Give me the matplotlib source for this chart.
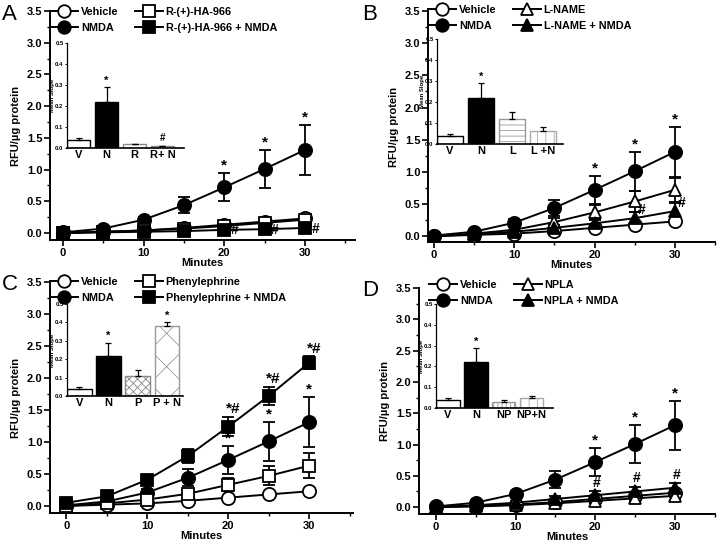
import matplotlib.pyplot as plt
from matplotlib.ticker import FormatStrFormatter
import numpy as np

plt.rcParams['font.family'] = ['Liberation Sans', 'DejaVu Sans']
plt.rcParams['font.weight'] = 'bold'
plt.rcParams['hatch.linewidth'] = 0.6

# ---- data ----
minutes = [0, 5, 10, 15, 20, 25, 30]

vehicle = [0.00, 0.02, 0.04, 0.08, 0.13, 0.18, 0.23]
vehicle_err = [0.01, 0.01, 0.02, 0.02, 0.03, 0.03, 0.04]
nmda = [0.01, 0.07, 0.21, 0.44, 0.72, 1.01, 1.31]
nmda_err = [0.01, 0.02, 0.05, 0.13, 0.22, 0.30, 0.39]

# A: R-(+)-HA-966
ha966 = [0.00, 0.02, 0.04, 0.07, 0.11, 0.16, 0.21]
ha966_err = [0.01, 0.01, 0.02, 0.02, 0.03, 0.03, 0.04]
ha966_nmda = [0.00, 0.01, 0.02, 0.03, 0.05, 0.06, 0.08]
ha966_nmda_err = [0.01, 0.01, 0.01, 0.01, 0.02, 0.02, 0.02]

# B: L-NAME
lname = [0.00, 0.04, 0.10, 0.22, 0.37, 0.54, 0.72]
lname_err = [0.01, 0.02, 0.04, 0.07, 0.12, 0.16, 0.19]
lname_nmda = [0.00, 0.03, 0.07, 0.13, 0.20, 0.28, 0.39]
lname_nmda_err = [0.01, 0.02, 0.03, 0.05, 0.07, 0.10, 0.12]

# C: Phenylephrine
phe = [0.00, 0.04, 0.10, 0.19, 0.33, 0.47, 0.63]
phe_err = [0.01, 0.02, 0.04, 0.07, 0.10, 0.15, 0.19]
phe_nmda = [0.05, 0.15, 0.41, 0.78, 1.24, 1.72, 2.24]
phe_nmda_err = [0.01, 0.03, 0.05, 0.11, 0.15, 0.14, 0.10]

# D: NPLA
npla = [0.00, 0.01, 0.03, 0.06, 0.10, 0.14, 0.18]
npla_err = [0.01, 0.01, 0.02, 0.03, 0.04, 0.05, 0.06]
npla_nmda = [0.00, 0.03, 0.07, 0.13, 0.19, 0.25, 0.31]
npla_nmda_err = [0.01, 0.02, 0.03, 0.04, 0.06, 0.07, 0.07]

# inset bar charts (mean slope)
slope_labels_a = ['V', 'N', 'R', 'R+ N']
slope_a = [0.04, 0.22, 0.02, 0.01]
slope_err_a = [0.01, 0.07, 0.0, 0.0]
slope_labels_b = ['V', 'N', 'L', 'L +N']
slope_b = [0.04, 0.22, 0.12, 0.06]
slope_err_b = [0.01, 0.07, 0.03, 0.02]
slope_labels_c = ['V', 'N', 'P', 'P + N']
slope_c = [0.04, 0.22, 0.11, 0.38]
slope_err_c = [0.01, 0.07, 0.03, 0.02]
slope_labels_d = ['V', 'N', 'NP', 'NP+N']
slope_d = [0.04, 0.22, 0.03, 0.05]
slope_err_d = [0.01, 0.07, 0.01, 0.01]

W, H = 720, 542
fig = plt.figure(figsize=(W / 100, H / 100), dpi=100)


def px_rect(l, t, r, b):
    return [l / W, 1 - b / H, (r - l) / W, (b - t) / H]


def main_panel(rect, xlim, ylo):
    ax = fig.add_axes(px_rect(*rect))
    ax.set_facecolor('none')
    ax.set_xlim(*xlim)
    ax.set_ylim(ylo, 3.5)
    for s in ['top', 'right']:
        ax.spines[s].set_visible(False)
    for s in ['left', 'bottom']:
        ax.spines[s].set_linewidth(1.4)
    ax.set_xticks([0, 10, 20, 30])
    ax.set_xticks([5, 15, 25, 35], minor=True)
    ax.set_yticks(np.arange(0, 3.51, 0.5))
    ax.set_yticks(np.arange(0.25, 3.5, 0.5), minor=True)
    ax.yaxis.set_major_formatter(FormatStrFormatter('%.1f'))
    ax.tick_params(direction='out', length=4, width=1.2, labelsize=8, pad=1.5)
    ax.tick_params(which='minor', direction='out', length=2.5, width=1)
    ax.set_xlabel('Minutes', fontsize=8, fontweight='bold', labelpad=0)
    ax.set_ylabel('RFU/µg protein', fontsize=8, fontweight='bold', labelpad=4)
    return ax


def series(ax, y, err, marker, face):
    ax.errorbar(minutes, y, yerr=err, fmt='none', ecolor='k', elinewidth=1.3,
                capsize=4.5, capthick=1.3, zorder=2)
    ms = 9.5 if marker == 'o' else 8.5
    line, = ax.plot(minutes, y, '-', color='k', lw=1.4, marker=marker, ms=ms,
                    mfc=face, mec='k', mew=1.3, zorder=3)
    return line


def inset(rect, labels, vals, errs, hatches, edges, faces, xlim):
    ax = fig.add_axes(px_rect(*rect))
    ax.set_facecolor('none')
    x = np.arange(len(vals))
    ax.bar(x, vals, width=0.84, color=faces, edgecolor=edges, hatch=hatches,
           linewidth=1.0, zorder=2)
    ax.errorbar(x, vals, yerr=[[0] * len(vals), errs], fmt='none', ecolor='k',
                elinewidth=0.9, capsize=2.5, capthick=0.9, zorder=3)
    ax.set_xlim(*xlim)
    ax.set_ylim(0, 0.5)
    for s in ['top', 'right']:
        ax.spines[s].set_visible(False)
    ax.spines['left'].set_linewidth(0.9)
    ax.spines['bottom'].set_linewidth(1.2)
    ax.set_xticks(x)
    ax.set_xticklabels(labels, fontsize=8, fontweight='bold')
    ax.tick_params(axis='x', length=0, pad=1.5)
    ax.set_yticks(np.arange(0, 0.51, 0.1))
    ax.yaxis.set_major_formatter(FormatStrFormatter('%.1f'))
    ax.tick_params(axis='y', direction='out', length=1.5, width=0.7, labelsize=4.3, pad=1)
    ax.set_ylabel('Mean Slope', fontsize=4.3, fontweight='bold', labelpad=0)
    return ax


def legend(ax, handles, labels, anchor_px):
    ax.legend(handles, labels, ncol=2, loc='upper left',
              bbox_to_anchor=(anchor_px[0] / W, 1 - anchor_px[1] / H),
              bbox_transform=fig.transFigure, frameon=False, fontsize=7.8,
              handlelength=2.6, handletextpad=0.25, columnspacing=1.5,
              labelspacing=0.55, borderpad=0, borderaxespad=0, markerscale=0.95)


def note(ax, x, y, s, size=11):
    ax.text(x, y, s, ha='center', va='center', fontsize=size, fontweight='bold')


star_x = [20, 25, 30]

# ---------- Panel A ----------
axA = main_panel((50, 11, 355, 240), (-1.6, 36.2), -0.11)
hA = [series(axA, vehicle, vehicle_err, 'o', 'white'),
      series(axA, nmda, nmda_err, 'o', 'k'),
      series(axA, ha966, ha966_err, 's', 'white'),
      series(axA, ha966_nmda, ha966_nmda_err, 's', 'k')]
legend(axA, hA, ['Vehicle', 'NMDA', 'R-(+)-HA-966', 'R-(+)-HA-966 + NMDA'], (50, 7))
for t in star_x:
    k = minutes.index(t)
    note(axA, t, nmda[k] + nmda_err[k] + 0.12, '*')
    note(axA, t + 1.3, ha966_nmda[k] - 0.01, '#', 10)
fig.text(2 / W, 1 - 14 / H, 'A', fontsize=16, fontweight='normal', va='center')
inA = inset((67, 43, 184, 148), slope_labels_a, slope_a, slope_err_a,
            [None, None, None, None], ['k', 'k', '#888888', '#888888'],
            ['white', 'k', 'white', 'white'], (-0.42, 3.77))
note(inA, 1, slope_a[1] + slope_err_a[1] + 0.03, '*', 8)
note(inA, 3, slope_a[3] + 0.04, '#', 7)

# ---------- Panel B ----------
axB = main_panel((428, 11, 715, 242), (-0.75, 34.8), -0.09)
hB = [series(axB, vehicle, vehicle_err, 'o', 'white'),
      series(axB, nmda, nmda_err, 'o', 'k'),
      series(axB, lname, lname_err, '^', 'white'),
      series(axB, lname_nmda, lname_nmda_err, '^', 'k')]
legend(axB, hB, ['Vehicle', 'NMDA', 'L-NAME', 'L-NAME + NMDA'], (428, 5))
for t in star_x:
    k = minutes.index(t)
    note(axB, t, nmda[k] + nmda_err[k] + 0.12, '*')
for t in [25, 30]:
    k = minutes.index(t)
    note(axB, t + 0.9, lname_nmda[k] + 0.13, '#', 10)
fig.text(362 / W, 1 - 14 / H, 'B', fontsize=16, fontweight='normal', va='center')
inB = inset((437, 39, 563, 144), slope_labels_b, slope_b, slope_err_b,
            [None, None, '---', '||'], ['k', 'k', '#999999', '#aaaaaa'],
            ['white', 'k', 'white', 'white'], (-0.42, 3.63))
note(inB, 1, slope_b[1] + slope_err_b[1] + 0.03, '*', 8)

# ---------- Panel C ----------
axC = main_panel((50, 282, 353, 513), (-2.0, 35.4), -0.11)
hC = [series(axC, vehicle, vehicle_err, 'o', 'white'),
      series(axC, nmda, nmda_err, 'o', 'k'),
      series(axC, phe, phe_err, 's', 'white'),
      series(axC, phe_nmda, phe_nmda_err, 's', 'k')]
legend(axC, hC, ['Vehicle', 'NMDA', 'Phenylephrine', 'Phenylephrine + NMDA'], (50, 277))
for t in star_x:
    k = minutes.index(t)
    note(axC, t, nmda[k] + nmda_err[k] + 0.12, '*')
    note(axC, t + 0.6, phe_nmda[k] + phe_nmda_err[k] + 0.12, '*#')
fig.text(2 / W, 1 - 285 / H, 'C', fontsize=16, fontweight='normal', va='center')
inC = inset((67, 304, 183, 396), slope_labels_c, slope_c, slope_err_c,
            [None, None, 'xxxx', 'x'], ['k', 'k', '#888888', '#999999'],
            ['white', 'k', 'white', 'white'], (-0.42, 3.55))
note(inC, 1, slope_c[1] + slope_err_c[1] + 0.035, '*', 8)
note(inC, 3, slope_c[3] + slope_err_c[3] + 0.035, '*', 8)

# ---------- Panel D ----------
axD = main_panel((419, 288, 715, 514), (-2.1, 34.7), -0.11)
hD = [series(axD, vehicle, vehicle_err, 'o', 'white'),
      series(axD, nmda, nmda_err, 'o', 'k'),
      series(axD, npla, npla_err, '^', 'white'),
      series(axD, npla_nmda, npla_nmda_err, '^', 'k')]
legend(axD, hD, ['Vehicle', 'NMDA', 'NPLA', 'NPLA + NMDA'], (429, 280))
for t in star_x:
    k = minutes.index(t)
    note(axD, t, nmda[k] + nmda_err[k] + 0.12, '*')
    note(axD, t + 0.2, npla_nmda[k] + npla_nmda_err[k] + 0.14, '#', 10)
fig.text(362 / W, 1 - 290 / H, 'D', fontsize=16, fontweight='normal', va='center')
inD = inset((436, 304, 553, 408), slope_labels_d, slope_d, slope_err_d,
            [None, None, '||||', '||'], ['k', 'k', '#999999', '#aaaaaa'],
            ['white', 'k', 'white', 'white'], (-0.43, 3.77))
note(inD, 1, slope_d[1] + slope_err_d[1] + 0.03, '*', 8)

fig.savefig('out.png', dpi=100)
